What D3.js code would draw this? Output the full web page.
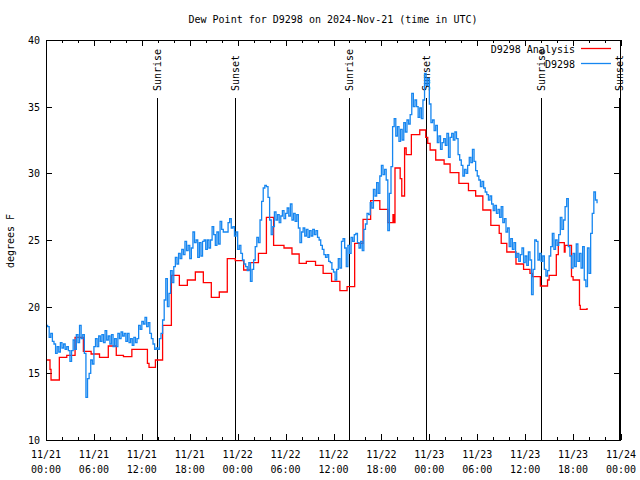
<!DOCTYPE html>
<html>
<head>
<meta charset="utf-8">
<script src="https://cdn.jsdelivr.net/npm/d3@7"></script>
<style>
  html, body { margin: 0; padding: 0; background: #fff; }
  svg text { font-family: "DejaVu Sans Mono", "Liberation Mono", monospace; font-size: 10px; fill: #000; }
</style>
</head>
<body>
<svg id="chart" width="640" height="480"></svg>
<script>
// ---- data (hours since 2024-11-21 00:00 UTC) ----
const title = "Dew Point for D9298 on 2024-Nov-21 (time in UTC)";
const yLabel = "degrees F";
const yTicks = [10, 15, 20, 25, 30, 35, 40];
const xTickHours = [0, 6, 12, 18, 24, 30, 36, 42, 48, 54, 60, 66, 72];
const xTickLabels = [
  ["11/21", "00:00"], ["11/21", "06:00"], ["11/21", "12:00"], ["11/21", "18:00"],
  ["11/22", "00:00"], ["11/22", "06:00"], ["11/22", "12:00"], ["11/22", "18:00"],
  ["11/23", "00:00"], ["11/23", "06:00"], ["11/23", "12:00"], ["11/23", "18:00"],
  ["11/24", "00:00"]
];
const sunEventHours = [13.93, 23.72, 37.95, 47.63, 61.98, 71.78];
const sunEventLabels = ["Sunrise", "Sunset", "Sunrise", "Sunset", "Sunrise", "Sunset"];

const seriesNames = ["D9298 Analysis", "D9298"];

// Analysis (red) step series
const redHours = [0, 0.5, 0.63, 1.67, 2.6, 3.64, 4.68, 5.65, 6.7, 7.8, 8.8, 9.7, 10.75, 12.7, 12.9, 13.7,
  14.6, 15.7, 16.7, 17.7, 18.7, 19.7, 20.7, 21.7, 22.7, 23.7, 24.75, 25.6, 26.6, 27.6, 28.5,
  29.8, 30.8, 31.7, 32.6, 33.75, 34.7, 35.76, 36.8, 37.7, 38.65, 39.7, 40.65, 41.8, 42.8, 43.45, 43.6,
  43.7, 44.35, 44.55, 44.9, 45.1, 45.75, 46.8, 47.55, 47.8, 48.1, 48.8, 49.85, 50.6, 51.7, 52.9,
  53.8, 54.7, 55.7, 56.75, 57.0, 57.7, 58.85, 59.8, 60.6, 60.9, 61.9, 62.8, 63.0, 63.9, 64.15,
  64.9, 65.0, 65.8, 66.0, 66.8, 66.9, 67.6, 67.75];
const redValues = [16.0, 15.3, 14.5, 16.2, 16.35, 17.7, 16.65, 16.45, 16.2, 17.05, 16.35, 16.25, 16.8, 15.75, 15.45, 16.0,
  18.6, 22.35, 21.6, 22.0, 22.6, 21.8, 20.7, 21.1, 23.6, 23.45, 22.75, 23.3, 24.0, 26.7, 24.6,
  24.4, 23.95, 23.25, 23.4, 23.1, 22.5, 21.9, 21.2, 21.5, 24.75, 26.55, 27.95, 27.3, 26.3, 26.9, 26.3,
  30.4, 29.6, 28.3, 31.9, 31.4, 32.9, 33.25, 32.7, 32.25, 31.75, 31.0, 30.7, 30.05, 29.25, 28.7,
  28.3, 27.25, 26.1, 25.5, 24.75, 24.1, 23.2, 22.8, 22.5, 22.25, 21.55, 22.0, 22.35, 23.9, 24.8,
  24.1, 24.6, 22.25, 22.0, 20.1, 19.8, 19.8, 19.9];

// Observations (blue), one value every 0.2 h starting at 00:00
const blueStartHour = 0;
const blueStepHours = 0.2;
const blueValues = [
  18.6, 18.5, 17.7, 18.0, 17.4, 17.2, 16.5, 17.0, 16.6, 17.3, 16.9, 17.2, 16.8, 17.0, 16.7, 15.9,
  16.7, 17.5, 16.8, 17.9, 17.3, 18.6, 17.6, 17.9, 16.5, 13.2, 14.6, 15.0, 16.0, 15.7, 17.0, 17.6,
  17.0, 17.8, 17.4, 17.9, 17.3, 18.2, 17.5, 17.8, 17.2, 17.9, 17.0, 17.6, 17.0, 18.0, 17.6, 18.1,
  17.8, 18.0, 17.4, 18.0, 17.3, 17.6, 17.1, 17.7, 17.3, 17.6, 18.6, 18.3, 18.9, 18.7, 19.2, 18.5,
  18.8, 18.0, 17.6, 17.2, 16.8, 16.9, 16.8, 17.6, 18.0, 19.0, 20.5, 22.1, 20.0, 21.0, 22.7, 21.8,
  23.0, 23.7, 23.2, 24.0, 23.6, 24.3, 23.9, 24.9, 24.2, 24.6, 23.6, 24.4, 25.6, 24.8, 25.0, 23.7,
  24.8, 23.8, 24.9, 25.0, 24.3, 25.0, 24.4, 25.0, 26.0, 25.4, 24.6, 25.6, 24.7, 26.4, 25.8, 25.6,
  25.6, 25.6, 26.3, 26.6, 25.9, 26.0, 25.3, 25.6, 24.3, 24.6, 24.0, 23.5, 23.2, 23.0, 22.7, 23.3,
  21.9, 22.8, 23.5, 24.5, 25.2, 24.8, 26.5, 27.9, 28.9, 29.1, 29.0, 28.2, 26.5, 25.4, 26.0, 27.1,
  26.5, 26.9, 26.3, 26.8, 27.2, 26.6, 27.0, 27.4, 26.8, 27.7, 26.5, 27.0, 26.4, 26.9, 25.9, 24.8,
  25.6, 25.9, 25.3, 25.8, 25.2, 25.7, 25.3, 25.8, 25.4, 25.7, 25.2, 25.0, 24.6, 24.3, 23.9, 23.7,
  23.9, 23.4, 23.3, 22.8, 22.6, 22.0, 22.8, 23.6, 22.9, 24.9, 25.1, 24.4, 23.0, 24.6, 24.0, 25.2,
  24.9, 25.4, 25.5, 24.8, 24.4, 24.9, 24.2, 25.8, 26.2, 27.0, 26.9, 27.8, 27.4, 28.8, 28.3, 29.3,
  28.5, 29.8, 30.6, 29.9, 30.3, 29.5, 25.7, 28.5, 30.5, 33.5, 34.1, 32.8, 33.5, 32.4, 33.3, 32.5,
  33.8, 33.1, 34.0, 33.7, 34.4, 36.0, 35.0, 35.5, 35.0, 34.2, 34.9, 34.1, 35.5, 37.5, 36.6, 37.1,
  35.2, 33.8, 34.0, 33.2, 33.6, 32.3, 32.8, 31.8, 32.3, 32.6, 32.1, 33.0, 31.2, 32.7, 33.0, 32.5,
  33.1, 32.6, 31.4, 31.0, 30.6, 29.8, 30.3, 30.0, 30.6, 31.2, 30.8, 31.8, 30.9, 30.2, 29.8, 29.5,
  29.0, 29.4, 28.9, 28.6, 28.4, 28.0, 28.3, 27.7, 27.2, 27.6, 27.0, 27.3, 26.7, 27.5, 26.3, 26.6,
  25.6, 25.9, 24.5, 25.1, 24.3, 24.8, 23.7, 24.0, 23.4, 23.9, 24.4, 23.3, 23.8, 23.1, 24.1, 23.5,
  20.9, 22.8, 25.0, 24.9, 23.5, 24.0, 23.4, 23.8, 22.8, 22.3, 22.7, 23.8, 24.5, 25.5, 24.3, 25.0,
  24.6, 25.4, 26.7, 25.8, 26.5, 27.5, 28.1, 24.5, 23.8, 22.9, 24.0, 23.0, 24.7, 23.4, 24.0, 22.9,
  24.5, 22.0, 21.5, 24.4, 22.5, 25.5, 27.0, 28.6, 28.0, 27.75
];

// ---- layout ----
const svg = d3.select("#chart");
const plotLeft = 46, plotRight = 621, plotTop = 40, plotBottom = 440;

const x = d3.scaleLinear().domain([0, 72]).range([plotLeft, plotRight]);
const y = d3.scaleLinear().domain([10, 40]).range([plotBottom, plotTop]);

// title
svg.append("text").attr("x", 333).attr("y", 23).attr("text-anchor", "middle").text(title);

// y label
svg.append("text")
  .attr("transform", "translate(14,241) rotate(-90)")
  .attr("text-anchor", "middle").text(yLabel);

svg.append("defs").append("clipPath").attr("id", "clip")
  .append("rect").attr("x", plotLeft).attr("y", plotTop)
  .attr("width", plotRight - plotLeft).attr("height", plotBottom - plotTop);

// axes with gnuplot-like inward ticks
const gAxes = svg.append("g").attr("shape-rendering", "crispEdges");

gAxes.append("g").attr("transform", `translate(${plotLeft},0)`)
  .call(d3.axisRight(y).tickValues(yTicks).tickSize(6).tickFormat(""))
  .call(g => g.select(".domain").remove());
gAxes.append("g").attr("transform", `translate(${plotRight - 1},0)`)
  .call(d3.axisLeft(y).tickValues(yTicks).tickSize(6).tickFormat(""))
  .call(g => g.select(".domain").remove());
svg.append("g").selectAll("text").data(yTicks).join("text")
  .attr("x", 40).attr("y", d => y(d) + 4).attr("text-anchor", "end").text(d => d);

const minorHours = d3.range(0, 73, 2).filter(h => h % 6 !== 0);
gAxes.append("g").attr("transform", `translate(0,${plotBottom})`)
  .call(d3.axisTop(x).tickValues(xTickHours).tickSize(6).tickFormat(""))
  .call(g => g.select(".domain").remove());
gAxes.append("g").attr("transform", `translate(0,${plotBottom})`)
  .call(d3.axisTop(x).tickValues(minorHours).tickSize(3).tickFormat(""))
  .call(g => g.select(".domain").remove());
gAxes.append("g").attr("transform", `translate(0,${plotTop})`)
  .call(d3.axisBottom(x).tickValues(xTickHours).tickSize(6).tickFormat(""))
  .call(g => g.select(".domain").remove());
gAxes.append("g").attr("transform", `translate(0,${plotTop})`)
  .call(d3.axisBottom(x).tickValues(minorHours).tickSize(3).tickFormat(""))
  .call(g => g.select(".domain").remove());
gAxes.selectAll(".tick line").attr("stroke", "#000");

const xl = svg.append("g").selectAll("text").data(xTickHours).join("text")
  .attr("text-anchor", "middle");
xl.append("tspan").attr("x", d => x(d)).attr("y", 458).text((d, i) => xTickLabels[i][0]);
xl.append("tspan").attr("x", d => x(d)).attr("y", 473).text((d, i) => xTickLabels[i][1]);

// sunrise / sunset lines
const sun = svg.append("g");
sun.selectAll("line").data(sunEventHours).join("line")
  .attr("x1", d => Math.round(x(d)) + 0.5).attr("x2", d => Math.round(x(d)) + 0.5)
  .attr("y1", 98).attr("y2", plotBottom)
  .attr("stroke", "#000").attr("stroke-width", 1);
sun.selectAll("text").data(sunEventHours).join("text")
  .attr("transform", d => `translate(${Math.round(x(d)) + 4},91) rotate(-90)`)
  .attr("text-anchor", "start")
  .text((d, i) => sunEventLabels[i]);

// series
const redData = redHours.map((h, i) => [h, redValues[i]]);
const blueData = blueValues.map((v, i) => [blueStartHour + i * blueStepHours, v]);

const line = d3.line().x(d => x(d[0])).y(d => y(d[1])).curve(d3.curveStepAfter);

const plot = svg.append("g").attr("clip-path", "url(#clip)");
plot.append("path").datum(redData).attr("d", line)
  .attr("fill", "none").attr("stroke", "#ff0000").attr("stroke-width", 1.3);
plot.append("path").datum(blueData).attr("d", line)
  .attr("fill", "none").attr("stroke", "#1686f0").attr("stroke-width", 1.3);

// frame
svg.append("rect").attr("x", plotLeft + 0.5).attr("y", plotTop + 0.5)
  .attr("width", plotRight - plotLeft - 1).attr("height", plotBottom - plotTop)
  .attr("fill", "none").attr("stroke", "#000").attr("shape-rendering", "crispEdges");

// legend
const legendColors = ["#ff0000", "#1686f0"];
const lg = svg.append("g");
seriesNames.forEach((name, i) => {
  const ly = 53 + i * 15;
  lg.append("text").attr("x", 575).attr("y", ly).attr("text-anchor", "end").text(name);
  lg.append("line").attr("x1", 581).attr("x2", 611).attr("y1", ly - 4.5).attr("y2", ly - 4.5)
    .attr("stroke", legendColors[i]).attr("stroke-width", 1.3);
});
</script>
</body>
</html>
